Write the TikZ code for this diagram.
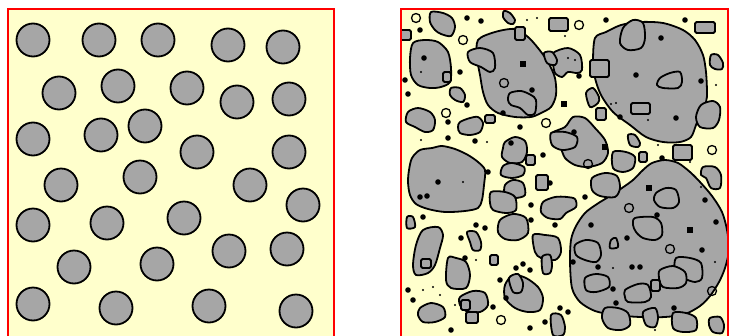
\documentclass[tikz,border=0pt]{standalone}
\usepackage{tikz}
\definecolor{paper}{HTML}{FFFFCC}
\definecolor{grain}{HTML}{A6A6A6}
\tikzset{
  panel/.style={draw=red, line width=1.6pt},
  grainfill/.style={draw=black, fill=grain, line width=1.8pt, line join=round},
  pore/.style={draw=black, line width=1.3pt},
  speck/.style={fill=black},
}
\newcommand{\grainblob}[1]{\filldraw[grainfill] plot[smooth cycle, tension=0.5] coordinates {#1};}
\newcommand{\grainbox}[2]{\filldraw[grainfill, rounded corners=1.5pt] #1 rectangle #2;}

\begin{document}
\begin{tikzpicture}[x=1pt, y=-1pt]
  \useasboundingbox (0,0) rectangle (734,335);
  % ================================================================
  % (a) regular circular grains
  % ================================================================
  \begin{scope}
    \fill[paper] (8,9) rectangle (334,345);
    \foreach \cx/\cy in {33/40, 99/40, 158/40, 228/45, 283/47,
                         59/93, 118/86, 187/88, 237/102, 289/99,
                         33/139, 101/135, 145/126, 197/152, 289/152,
                         61/185, 140/177, 250/185, 303/205,
                         33/225, 107/223, 184/218, 229/251, 287/249,
                         74/267, 157/264, 33/304, 116/308, 209/306, 296/311}
      \filldraw[grainfill] (\cx,\cy) circle[radius=16.5pt];
    \draw[panel] (8,9) rectangle (334,345);
  \end{scope}
  % ================================================================
  % (b) irregular grains
  % ================================================================
  \begin{scope}
    \fill[paper] (401,9) rectangle (728,345);
    \begin{scope}
      \clip (401,9) rectangle (728,345);
      % large grains ---------------------------------------------------
      \grainblob{(478,40) (495,32) (515,29) (528,37) (538,48) (548,62) (555,78) (556,95) (551,107) (541,113) (531,117) (515,117) (498,113) (488,105) (483,92) (480,75) (477,58)}
      \grainblob{(595,38) (606,32) (621,25) (640,22) (663,23) (683,30) (695,40) (703,55) (706,72) (707,92) (706,102) (700,115) (696,125) (691,137) (680,142) (663,142) (646,137) (630,125) (613,112) (601,95) (595,78) (593,62)}
      \grainblob{(570,262) (571,240) (576,226) (585,213) (597,204) (610,196) (622,188) (633,180) (643,170) (652,163) (665,160) (678,163) (690,172) (700,182) (712,196) (722,212) (727,230) (729,250) (725,268) (719,282) (710,296) (700,306) (685,314) (665,317) (640,317) (615,315) (595,311) (580,302) (572,288)}
      \grainblob{(409,170) (412,158) (420,150) (432,148) (442,146) (455,149) (468,155) (478,162) (485,170) (484,185) (482,200) (478,208) (465,211) (445,212) (428,209) (416,204) (410,195) (408,182)}
      \grainblob{(413,43) (425,40) (438,42) (448,52) (451,68) (450,82) (441,87) (430,88) (418,85) (411,75) (410,58)}
      \grainblob{(552,133) (565,127) (573,117) (585,118) (595,128) (605,140) (608,153) (602,163) (588,167) (575,165) (565,158) (560,147) (552,143)}
      % attached and inner grains --------------------------------------
      \grainblob{(468,52) (480,48) (493,53) (495,68) (490,72) (481,67) (470,62)}
      \grainblob{(510,93) (521,91) (531,95) (536,100) (535,113) (528,115) (520,108) (511,105) (508,100)}
      \grainblob{(623,28) (633,20) (643,23) (645,38) (641,48) (628,50) (620,43)}
      \grainblob{(701,105) (713,101) (720,107) (719,120) (713,128) (700,127) (696,117)}
      \grainblob{(660,78) (670,73) (680,72) (682,82) (678,88) (663,88) (657,85)}
      \grainblob{(551,133) (565,132) (577,137) (575,147) (562,150) (552,145)}
      \grainblob{(592,178) (605,173) (617,176) (620,188) (615,197) (600,196) (592,190)}
      \grainblob{(703,167) (715,167) (721,175) (720,188) (711,188) (706,178) (701,175)}
      \grainblob{(656,193) (666,188) (676,190) (679,202) (673,208) (660,207) (654,200)}
      \grainblob{(635,218) (653,217) (661,223) (662,235) (655,240) (643,238) (636,232) (633,225)}
      \grainblob{(611,240) (616,238) (618,247) (610,248)}
      \grainblob{(575,245) (586,240) (598,243) (601,255) (596,262) (585,260) (576,255)}
      \grainblob{(676,258) (690,258) (701,263) (702,278) (695,282) (683,278) (675,272)}
      \grainblob{(660,270) (673,266) (685,272) (686,283) (678,288) (663,287) (659,278)}
      \grainblob{(585,278) (596,274) (608,277) (609,287) (596,292) (586,290)}
      \grainblob{(625,290) (638,284) (648,285) (651,297) (645,302) (628,302) (625,297)}
      \grainblob{(605,308) (618,308) (628,313) (630,325) (621,330) (608,328) (602,318)}
      \grainblob{(643,312) (655,308) (658,318) (655,327) (646,325)}
      \grainblob{(673,313) (686,313) (696,318) (696,330) (683,332) (673,328)}
      \grainblob{(710,318) (720,317) (724,325) (722,333) (713,332) (709,325)}
      \grainbox{(443,72)}{(451,82)}
      \grainbox{(590,60)}{(609,77)}
      \grainbox{(631,103)}{(650,114)}
      \grainbox{(651,280)}{(660,291)}
      % small grains ---------------------------------------------------
      \grainblob{(431,12) (443,13) (452,18) (455,27) (451,36) (441,34) (435,30) (430,22)}
      \grainblob{(504,11) (510,13) (515,20) (513,24) (508,23) (503,17)}
      \grainblob{(451,88) (460,88) (465,95) (463,102) (455,100) (450,95)}
      \grainblob{(408,112) (418,108) (430,112) (435,120) (433,130) (425,132) (415,127) (406,122)}
      \grainblob{(460,122) (470,118) (478,117) (483,123) (480,132) (470,135) (460,133) (458,127)}
      \grainblob{(505,142) (515,137) (525,141) (527,152) (522,162) (510,163) (502,157) (503,148)}
      \grainblob{(503,166) (512,163) (524,167) (523,175) (512,178) (501,175)}
      \grainblob{(711,55) (718,55) (723,63) (722,69) (715,69) (710,65)}
      \grainblob{(553,53) (568,48) (580,55) (582,70) (577,73) (568,72) (562,77) (555,73) (553,63)}
      \grainblob{(544,53) (552,52) (557,60) (555,65) (547,63)}
      \grainblob{(586,93) (593,88) (599,97) (598,103) (590,107)}
      \grainblob{(628,135) (635,135) (640,143) (638,147) (630,145)}
      \grainblob{(613,152) (626,152) (635,157) (633,168) (623,172) (613,168)}
      \grainblob{(543,202) (555,197) (567,197) (575,199) (576,207) (566,213) (560,219) (548,218) (541,212)}
      \grainblob{(505,185) (513,180) (523,183) (525,195) (515,198) (505,195)}
      \grainblob{(491,192) (505,192) (515,197) (516,210) (506,213) (493,210) (490,203)}
      \grainblob{(500,220) (513,214) (526,218) (528,233) (518,240) (505,239) (498,232)}
      \grainblob{(407,217) (413,217) (415,227) (407,228)}
      \grainblob{(423,230) (438,227) (443,235) (440,248) (435,265) (428,273) (416,275) (413,265) (416,245)}
      \grainblob{(467,232) (476,232) (481,242) (480,250) (473,250) (470,242)}
      \grainblob{(533,235) (545,235) (558,238) (561,252) (555,260) (541,258) (535,252)}
      \grainblob{(542,257) (550,255) (552,265) (550,273) (543,273)}
      \grainblob{(448,258) (456,258) (466,262) (470,275) (466,288) (451,288) (446,280)}
      \grainblob{(505,285) (513,275) (526,278) (538,287) (543,298) (540,310) (528,312) (515,308) (505,298)}
      \grainblob{(509,278) (518,274) (523,283) (521,292) (513,292)}
      \grainblob{(460,297) (473,291) (485,293) (488,305) (480,312) (466,311) (460,305)}
      \grainblob{(420,308) (431,303) (443,307) (445,317) (435,322) (423,322) (418,315)}
      \grainblob{(551,315) (561,315) (565,327) (563,335) (553,335)}
      \grainbox{(515,27)}{(525,40)}
      \grainbox{(399,30)}{(411,40)}
      \grainbox{(485,115)}{(495,123)}
      \grainbox{(526,155)}{(535,165)}
      \grainbox{(549,18)}{(568,31)}
      \grainbox{(695,22)}{(715,33)}
      \grainbox{(596,108)}{(606,120)}
      \grainbox{(639,152)}{(647,162)}
      \grainbox{(673,145)}{(692,160)}
      \grainbox{(536,175)}{(548,190)}
      \grainbox{(421,259)}{(431,268)}
      \grainbox{(490,255)}{(498,265)}
      \grainbox{(461,300)}{(470,310)}
      \grainbox{(466,312)}{(478,323)}
      % pores ------------------------------------------------------------
      \foreach \px/\py in {416/18, 463/40, 504/83, 446/113, 546/123, 579/25,
                           588/164, 712/150, 629/208, 670/249, 712/291, 501/320}
        \draw[pore] (\px,\py) circle[radius=4.5pt];
      % specks -----------------------------------------------------------
      \foreach \px/\py in {420/30, 467/18, 481/21, 424/58, 460/72, 405/80, 408/94,
                           467/105, 448/122, 520/127, 448/138, 475/141, 503/113,
                           532/90, 606/20, 685/20, 661/38, 636/75, 701/81, 676/118,
                           620/117, 579/76, 574/132, 511/143, 543/155, 438/182,
                           420/197, 427/196, 662/158, 550/183, 531/205, 531/220,
                           423/217, 476/225, 485/228, 461/238, 465/258, 488/172,
                           500/280, 516/268, 523/264, 530/270, 506/298, 493/307,
                           408/290, 413/300, 451/330, 530/328, 545/322, 560/308,
                           555/225, 591/225, 627/238, 702/250, 573/262, 598/267,
                           632/267, 640/267, 613/289, 616/303, 674/308, 716/222,
                           705/200, 568/312, 585/197, 657/215}
        \fill[speck] (\px,\py) circle[radius=2.8pt];
      \foreach \px/\py in {523/64, 605/147, 649/188, 690/230, 564/104}
        \fill[speck] (\px-3,\py-3) rectangle (\px+3,\py+3);
      \foreach \px/\py in {421/72, 527/20, 537/18, 565/36, 606/77, 616/103, 611/104,
                           648/120, 716/85, 690/162, 658/145, 463/182, 421/140,
                           487/142, 476/260, 715/262, 613/268, 701/187, 655/330,
                           423/290, 433/287, 440/295, 455/305, 568/58, 575/60}
        \fill[speck] (\px,\py) circle[radius=1.1pt];
    \end{scope}
    \draw[panel] (401,9) rectangle (728,345);
  \end{scope}
\end{tikzpicture}
\end{document}
